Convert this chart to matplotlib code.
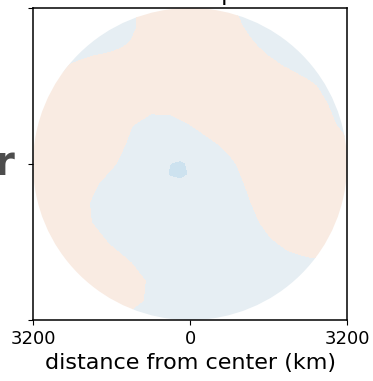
import numpy as np
import matplotlib.pyplot as plt
import matplotlib.transforms as mtransforms
from matplotlib.patches import Circle

# field on a 17 x 17 grid (400 km step), rows from top to bottom
# > 0 : warm side, < 0 : cold side
radius_km = 3200
x_km = np.linspace(-3200, 3200, 17)
y_km = np.linspace(3200, -3200, 17)
field_rows = [
    [-1, -1, -1, -1, -1, -0.3, 0.7, 1, 1, 1, 0.2, -0.6, -1, -1, -1, -1, -1],
    [-1, -1, -1, -1, -1, -0.28, 0.7, 1, 1, 1, 0.6, -0.25, -1, -1, -1, -1, -1],
    [-1, -1, -0.75, -0.42, -0.25, 0.15, 0.9, 1, 1, 1, 1, 0.31, -0.37, -1, -1, -1, -1],
    [-1, -0.5, 0.15, 0.45, 0.7, 1, 1, 1, 1, 1, 1, 1, 0.4, -0.14, -0.57, -1, -1],
    [-0.65, 0.1, 0.75, 1, 1, 1, 1, 1, 1, 1, 1, 1, 1, 1, 0.26, -0.33, -1],
    [1, 1, 1, 1, 1, 0.75, 0.4, 0.45, 0.75, 1, 1, 1, 1, 1, 1, 0.03, -0.95],
    [1, 1, 1, 1, 1, 0.06, -0.53, -0.54, -0.02, 0.55, 1, 1, 1, 1, 1, 0.37, -0.46],
    [1, 1, 1, 1, 0.65, -0.28, -1, -1, -0.8, -0.28, 0.33, 1, 1, 1, 1, 1, 0.17],
    [1, 1, 1, 0.9, 0.18, -0.65, -1, -1, -1, -1, -0.3, 0.53, 1, 1, 1, 1, 1],
    [1, 1, 1, 0.28, -0.56, -1, -1, -1, -1, -1, -0.7, 0.21, 1, 1, 1, 1, 1],
    [1, 1, 0.85, -0.12, -1, -1, -1, -1, -1, -1, -1, -0.11, 0.8, 1, 1, 1, 1],
    [1, 1, 0.9, -0.02, -0.9, -1, -1, -1, -1, -1, -1, -0.5, 0.4, 1, 1, 1, 1],
    [1, 1, 1, 0.53, -0.16, -1, -1, -1, -1, -1, -1, -1, -0.24, 0.39, 0.74, 0.8, 1],
    [1, 1, 1, 1, 0.55, -0.05, -1, -1, -1, -1, -1, -1, -1, -0.5, -0.23, -0.17, -0.2],
    [1, 1, 1, 1, 1, 0.65, -0.25, -1, -1, -1, -1, -1, -1, -1, -1, -1, -1],
    [1, 1, 1, 1, 1, 0.45, -0.28, -1, -1, -1, -1, -1, -1, -1, -1, -1, -1],
    [1, 1, 1, 1, -0.5, -0.5, -1, -1, -1, -1, -1, -1, -1, -1, -1, -1, -1],
]
levels = [-5, 0, 5]
fill_colors = ['#e6eef3', '#f9ebe2']

# the small cold spot near the center, finer grid (200 km step)
spot_x_km = np.linspace(-600, 200, 5)
spot_y_km = np.linspace(200, -600, 5)
spot_rows = [
    [-1, -1, -1, -1, -1],
    [-1.3, -1.95, -2.3, -1.63, -1.2],
    [-1.27, -2.1, -2.5, -1.75, -1.2],
    [-1.1, -1.43, -1.3, -1.2, -1.1],
    [-1, -1, -1, -1, -1],
]
spot_levels = [-5, -2]
spot_color = '#cde2ef'

xtick_pos = [-3200, 0, 3200]
xtick_labels = ['3200', '0', '3200']
ytick_pos = [-3200, 0, 3200]
ytick_labels = ['', 'r', '']

fig = plt.figure(figsize=(3.73, 3.81), dpi=100)
ax = fig.add_axes([0.0885, 0.16, 0.8418, 0.819])

disk = Circle((0, 0), radius_km, transform=ax.transData)
field = np.array(field_rows)[::-1]
cs = ax.contourf(x_km, y_km[::-1], field, levels=levels, colors=fill_colors)
cs.set_clip_path(disk)

spot = np.array(spot_rows)[::-1]
ax.contourf(spot_x_km, spot_y_km[::-1], spot, levels=spot_levels, colors=[spot_color])

ax.set_xlim(-radius_km, radius_km)
ax.set_ylim(-radius_km, radius_km)
ax.set_xticks(xtick_pos)
ax.set_xticklabels(xtick_labels, fontsize=13)
ax.set_yticks(ytick_pos)
ax.set_yticklabels(ytick_labels, fontsize=29, fontweight='bold', color='#4d4d4d')
ax.tick_params(axis='y', pad=10)
ax.set_xlabel('distance from center (km)', fontsize=16)
ax.set_title('T at top', fontsize=17)
for s in ax.spines.values():
    s.set_linewidth(1.1)

# nudge the big "r" up a little
shift = mtransforms.ScaledTranslation(0, 3 / 72, fig.dpi_scale_trans)
for lab in ax.get_yticklabels():
    lab.set_transform(lab.get_transform() + shift)

fig.savefig('out.png', dpi=100)
